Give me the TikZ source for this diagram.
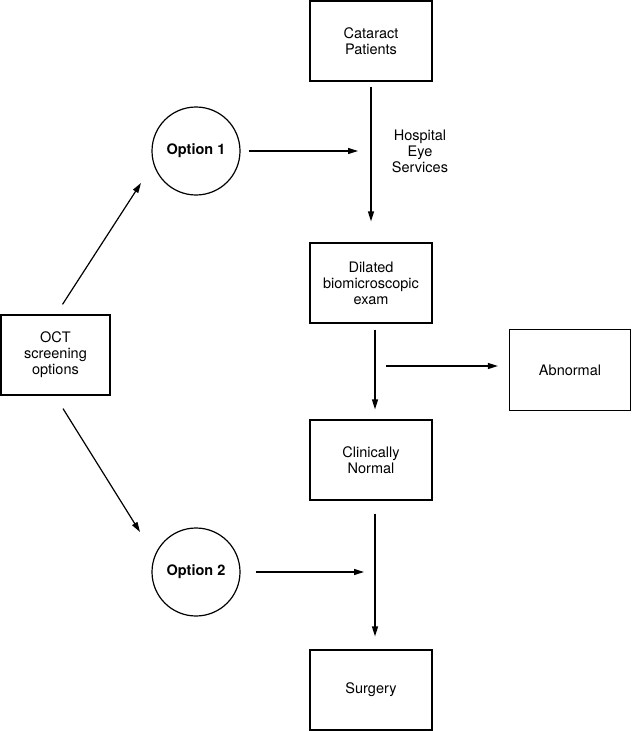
\documentclass[tikz,border=0pt]{standalone}
\usepackage{fontspec}
\setmainfont{TeX Gyre Heros}
\usetikzlibrary{arrows.meta,positioning}
\tikzset{
  box/.style={draw,line width=1.2pt,minimum width=122pt,minimum height=80pt,align=center,inner sep=0pt},
  opt/.style={draw,circle,line width=1.2pt,minimum size=88pt,inner sep=0pt,font=\fontsize{14.5}{16}\selectfont\bfseries},
  arr/.style={line width=1.2pt,-{Triangle[length=10pt,width=6pt]}}
}
\begin{document}
\begin{tikzpicture}[x=1pt,y=-1pt,font=\fontsize{14.5}{16}\selectfont]
\useasboundingbox (0,0) rectangle (632,731);
% boxes
\node[box] (cataract) at (371,41) {Cataract\\Patients};
\node[box] (dilated) at (371,283) {Dilated\\biomicroscopic\\exam};
\node[box,minimum width=121pt,minimum height=81pt] (abnormal) at (570,370) {Abnormal};
\node[box] (normal) at (371,460) {Clinically\\Normal};
\node[box] (surgery) at (371,690) {Surgery};
\node[box,minimum width=109pt] (oct) at (55.5,355) {OCT\\screening\\options};
% options
\node[opt] (opt1) at (196,151) {Option 1};
\node[opt] (opt2) at (196,572) {Option 2};
\node[align=center] (hes) at (420,151) {Hospital\\Eye\\Services};
% free ends
\coordinate (in1) at (358,151);
\coordinate (in2) at (364,572);
\coordinate (split) at (386,366);
\coordinate (up) at (141,183);
\coordinate (down) at (140,532);
% arrows
\draw[arr] ([yshift=-5]cataract.south) -- ([yshift=21]dilated.north);
\draw[arr] ([xshift=4,yshift=-6]dilated.south) -- ([xshift=4,yshift=10]normal.north);
\draw[arr,shorten >=11pt] (split) -- (split -| abnormal.west);
\draw[arr] ([xshift=4,yshift=-13]normal.south) -- ([xshift=4,yshift=13]surgery.north);
\draw[arr] ([xshift=8]opt1.east) -- (in1);
\draw[arr] ([xshift=15]opt2.east) -- (in2);
\draw[arr] ([xshift=7,yshift=10]oct.north) -- (up);
\draw[arr] ([xshift=7.5,yshift=-13]oct.south) -- (down);
\end{tikzpicture}
\end{document}
